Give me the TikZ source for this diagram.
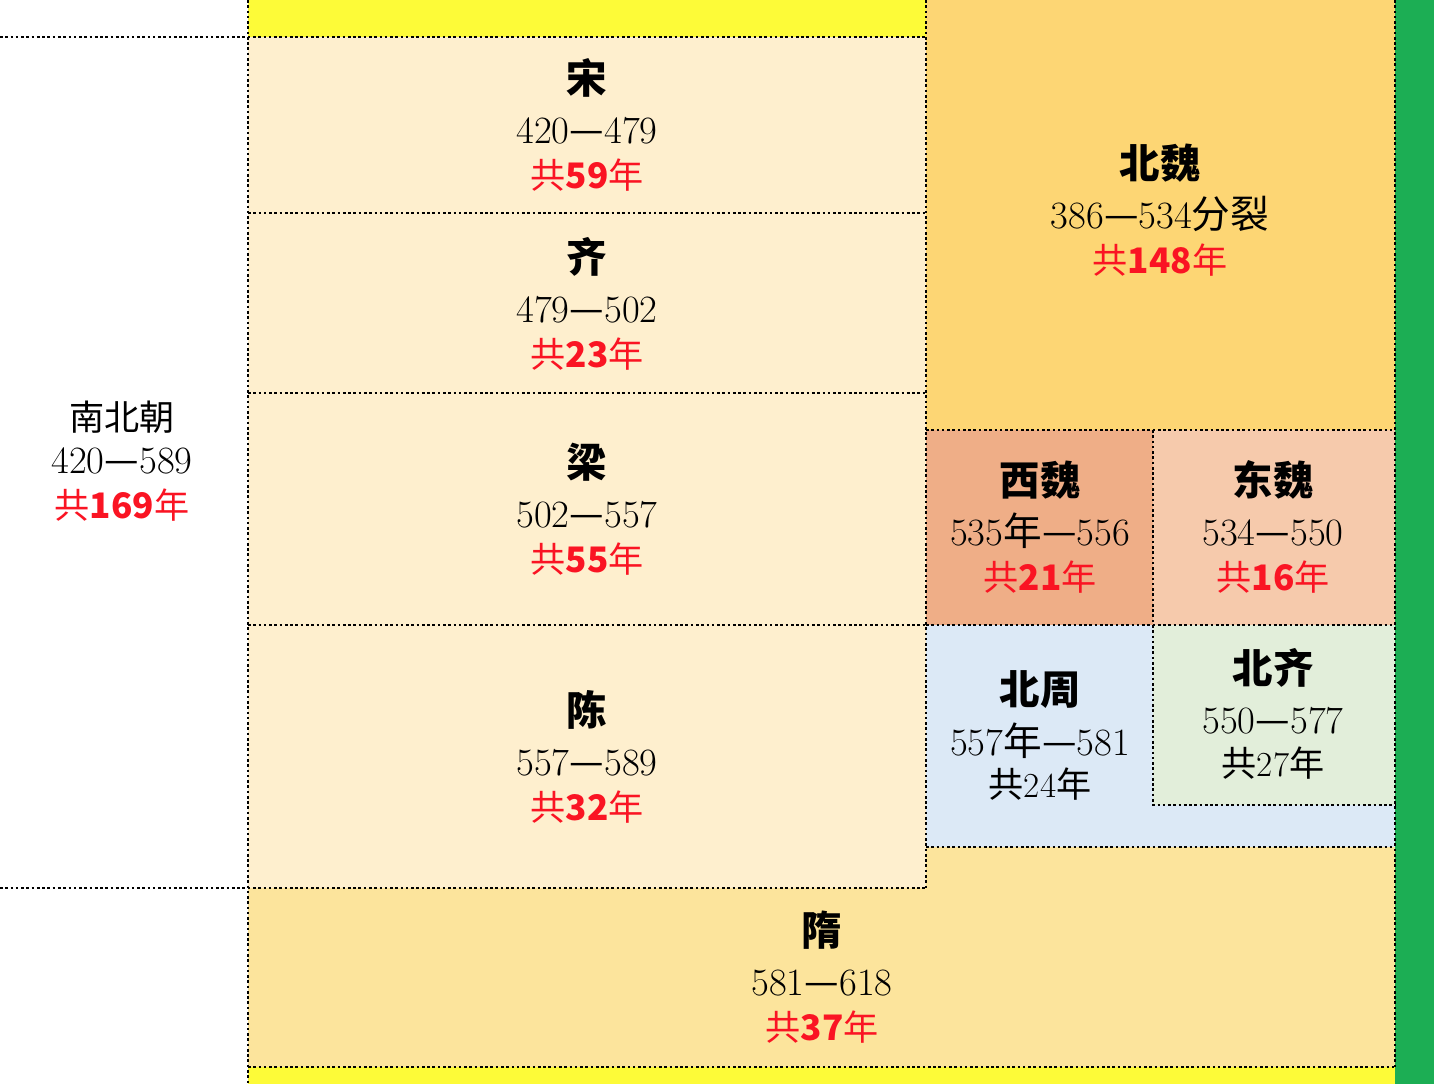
\documentclass[tikz,border=0pt]{standalone}
\usepackage{fontspec}
\newfontfamily\cjk{Noto Sans CJK SC}
\usetikzlibrary{positioning}

\definecolor{topyellow}{RGB}{253,251,56}
\definecolor{cream}{RGB}{254,239,206}
\definecolor{beiwei}{RGB}{253,214,116}
\definecolor{xiwei}{RGB}{239,174,135}
\definecolor{dongwei}{RGB}{246,202,172}
\definecolor{beizhou}{RGB}{220,233,246}
\definecolor{beiqi}{RGB}{226,238,218}
\definecolor{sui}{RGB}{252,228,156}
\definecolor{sidegreen}{RGB}{28,174,84}
\definecolor{eraRed}{RGB}{250,20,35}

\newcommand\eradash{{\cjk —}}
\newcommand\total[1]{{\cjk 共\textbf{#1}年}}

\begin{document}
\begin{tikzpicture}[x=0.02cm, y=-0.02cm, node distance=1.06cm,
    box/.style={draw, line width=0.9pt, dash pattern=on 1.5pt off 1.5pt},
    title/.style={font=\cjk\bfseries\fontsize{23}{23}\selectfont},
    dates/.style={font=\fontsize{22}{22}\selectfont, text height=15pt, text depth=1pt},
    years/.style={dates, font=\fontsize{20}{20}\selectfont, node distance=0.9cm, text=eraRed}]
    \useasboundingbox (0,0) rectangle (1434,1084);

    % coloured blocks
    \fill[topyellow] (248,0) rectangle (926,37);
    \fill[beiwei] (926,0) rectangle (1395,430);
    \fill[cream] (248,37) rectangle (926,888);
    \fill[xiwei] (926,430) rectangle (1153,625);
    \fill[dongwei] (1153,430) rectangle (1395,625);
    \fill[beizhou] (926,625) rectangle (1395,847);
    \fill[beiqi] (1153,625) rectangle (1395,805);
    \fill[sui] (248,888) -- (926,888) -- (926,847) -- (1395,847) -- (1395,1067) -- (248,1067) -- cycle;
    \fill[topyellow] (248,1067) rectangle (1395,1084);
    \fill[sidegreen] (1395,0) rectangle (1434,1084);

    % dashed borders
    \draw[box] (0,37) -- (926,37) (0,888) -- (926,888);
    \draw[box] (248,0) -- (248,1084) (926,0) -- (926,888) (1395,0) -- (1395,1067);
    \foreach \y in {213,393,625}
        \draw[box] (248,\y) -- (926,\y);
    \draw[box] (926,430) -- (1395,430) (926,625) -- (1395,625);
    \draw[box] (926,847) -- (1395,847) (248,1067) -- (1395,1067);
    \draw[box] (1153,430) -- (1153,805) -- (1395,805);

    % Nan-Bei chao
    \node[dates, font=\cjk\fontsize{20}{20}\selectfont] (nbc) at (122,418) {南北朝};
    \node[dates] (nbcd) [below of=nbc, node distance=0.86cm] {420\eradash589};
    \node[years] (nbcy) [below of=nbcd] {\total{169}};

    % southern dynasties
    \node[title] (song) at (587,78) {宋};
    \node[dates] (songd) [below of=song] {420\eradash479};
    \node[years] (songy) [below of=songd] {\total{59}};

    \node[title] (qi) at (587,257) {齐};
    \node[dates] (qid) [below of=qi] {479\eradash502};
    \node[years] (qiy) [below of=qid] {\total{23}};

    \node[title] (liang) at (587,462) {梁};
    \node[dates] (liangd) [below of=liang] {502\eradash557};
    \node[years] (liangy) [below of=liangd] {\total{55}};

    \node[title] (chen) at (587,710) {陈};
    \node[dates] (chend) [below of=chen] {557\eradash589};
    \node[years] (cheny) [below of=chend] {\total{32}};

    % northern dynasties
    \node[title] (bwei) at (1160,163) {北魏};
    \node[dates] (bweid) [below of=bwei] {386\eradash534{\cjk 分裂}};
    \node[years] (bweiy) [below of=bweid] {\total{148}};

    \node[title] (xwei) at (1040,480) {西魏};
    \node[dates] (xweid) [below of=xwei] {535{\cjk 年}\eradash556};
    \node[years] (xweiy) [below of=xweid] {\total{21}};

    \node[title] (dwei) at (1273,480) {东魏};
    \node[dates] (dweid) [below of=dwei] {534\eradash550};
    \node[years] (dweiy) [below of=dweid] {\total{16}};

    \node[title] (bzhou) at (1040,690) {北周};
    \node[dates] (bzhoud) [below of=bzhou] {557{\cjk 年}\eradash581};
    \node[years, text=black] (bzhouy) [below of=bzhoud, node distance=0.84cm] {{\cjk 共}24{\cjk 年}};

    \node[title] (bqi) at (1273,668) {北齐};
    \node[dates] (bqid) [below of=bqi] {550\eradash577};
    \node[years, text=black] (bqiy) [below of=bqid, node distance=0.86cm] {{\cjk 共}27{\cjk 年}};

    \node[title] (sui) at (822,930) {隋};
    \node[dates] (suid) [below of=sui] {581\eradash618};
    \node[years] (suiy) [below of=suid] {\total{37}};
\end{tikzpicture}
\end{document}
